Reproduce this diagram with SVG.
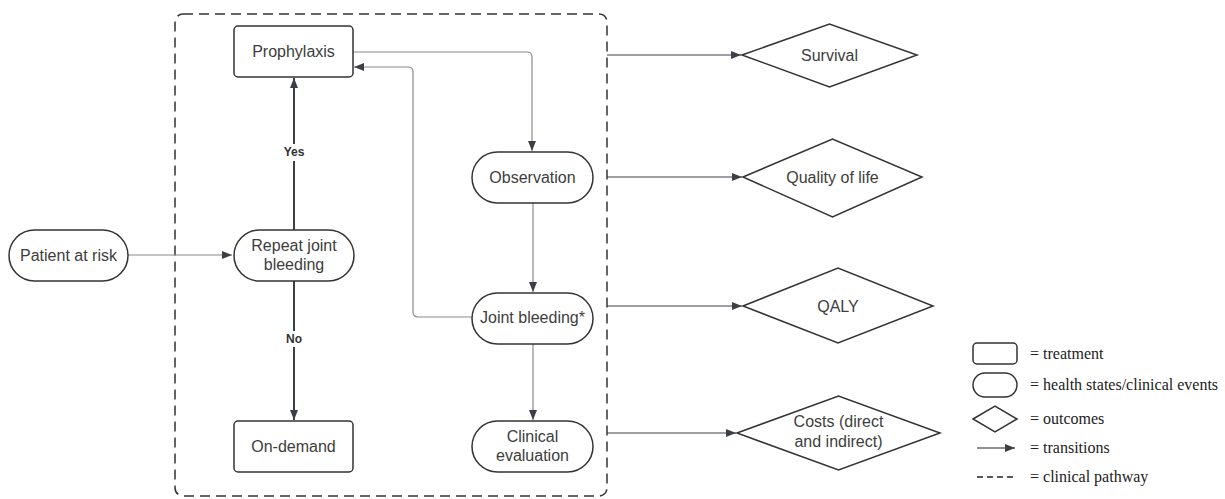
<svg xmlns="http://www.w3.org/2000/svg" width="1225" height="499" viewBox="0 0 1225 499">
<style>
.node{fill:#fff;stroke:#333;stroke-width:1.5}
.t{font-family:"Liberation Sans",Arial,sans-serif;font-size:16px;fill:#3d3d3d;text-anchor:middle}
.lbl{font-family:"Liberation Sans",Arial,sans-serif;font-size:12px;font-weight:bold;fill:#333;text-anchor:middle}
.lg{font-family:"Liberation Serif","Times New Roman",serif;font-size:16px;fill:#222}
.thin{fill:none;stroke:#8a8a8a;stroke-width:1.2}
.dark{fill:none;stroke:#3c4046;stroke-width:2}
.out{fill:none;stroke:#3c4046;stroke-width:1.2}
.frame{fill:none;stroke:#333;stroke-width:1.5;stroke-dasharray:10 6}
</style>
<defs>
<marker id="ah" viewBox="0 0 10 10" refX="10" refY="5" markerWidth="10" markerHeight="10" markerUnits="userSpaceOnUse" orient="auto">
<path d="M0,1 L10,5 L0,9 Z" fill="#3c4046"/>
</marker>
</defs>
<rect id="pathway" class="frame" x="175" y="14" width="432" height="482" rx="8"/>
<g id="connectors">
<path class="thin" d="M353,52 H527 Q532,52 532,57 V151" marker-end="url(#ah)"/>
<path class="thin" d="M472,317 H418 Q413,317 413,312 V72 Q413,67 408,67 H354" marker-end="url(#ah)"/>
<path class="thin" d="M533,203 V292" marker-end="url(#ah)"/>
<path class="thin" d="M533,344 V420" marker-end="url(#ah)"/>
<path class="thin" d="M128,255 H232" marker-end="url(#ah)"/>
<path class="dark" d="M294,230 V161"/>
<path class="dark" d="M294,144 V78" marker-end="url(#ah)"/>
<path class="dark" d="M294,281 V331"/>
<path class="dark" d="M294,347 V420" marker-end="url(#ah)"/>
<text class="lbl" x="294" y="156">Yes</text>
<text class="lbl" x="294" y="343">No</text>
<path class="out" d="M607,55 H741" marker-end="url(#ah)"/>
<path class="out" d="M607,177 H742" marker-end="url(#ah)"/>
<path class="out" d="M607,306 H742" marker-end="url(#ah)"/>
<path class="out" d="M607,433 H736" marker-end="url(#ah)"/>
</g>
<g id="prophylaxis"><rect class="node" x="234" y="26" width="119" height="51" rx="4"/><text class="t" x="293.5" y="57">Prophylaxis</text></g>
<g id="observation"><rect class="node" x="472" y="152" width="121" height="51" rx="25.5"/><text class="t" x="532.5" y="183">Observation</text></g>
<g id="patient"><rect class="node" x="9" y="230" width="119" height="51" rx="25.5"/><text class="t" x="68.5" y="261">Patient at risk</text></g>
<g id="repeat"><rect class="node" x="234" y="230" width="120" height="51" rx="25.5"/><text class="t" x="294" y="251">Repeat joint</text><text class="t" x="294" y="270">bleeding</text></g>
<g id="joint"><rect class="node" x="472" y="293" width="121" height="51" rx="25.5"/><text class="t" x="532.5" y="323">Joint bleeding*</text></g>
<g id="ondemand"><rect class="node" x="234" y="421" width="119" height="51" rx="4"/><text class="t" x="293.5" y="452">On-demand</text></g>
<g id="clinical"><rect class="node" x="472" y="421" width="121" height="51" rx="25.5"/><text class="t" x="532.5" y="442">Clinical</text><text class="t" x="532.5" y="461">evaluation</text></g>
<g id="survival"><path class="node" d="M742,55 L829.5,24 L917,55 L829.5,87 Z"/><text class="t" x="829.5" y="61">Survival</text></g>
<g id="qol"><path class="node" d="M743,177 L832.5,139 L922,177 L832.5,217 Z"/><text class="t" x="832.5" y="183">Quality of life</text></g>
<g id="qaly"><path class="node" d="M743,306 L838,268 L933,306 L838,343 Z"/><text class="t" x="838" y="312">QALY</text></g>
<g id="costs"><path class="node" d="M737,433 L838.5,396 L940,433 L838.5,470 Z"/><text class="t" x="838.5" y="427">Costs (direct</text><text class="t" x="838.5" y="447">and indirect)</text></g>
<g id="legend">
<rect class="node" x="973" y="343" width="44" height="21" rx="4" stroke="#222"/>
<rect class="node" x="973" y="373" width="44" height="24" rx="12" stroke="#222"/>
<path class="node" d="M973,419 L995,406 L1017,419 L995,432 Z" stroke="#222"/>
<path d="M977,448 H1015" stroke="#222" stroke-width="1.2" marker-end="url(#ah)"/>
<path d="M977,477 H1015" stroke="#222" stroke-width="1.5" stroke-dasharray="6 4"/>
<text class="lg" x="1030" y="359">= treatment</text>
<text class="lg" x="1030" y="390">= health states/clinical events</text>
<text class="lg" x="1030" y="424">= outcomes</text>
<text class="lg" x="1030" y="453">= transitions</text>
<text class="lg" x="1030" y="482">= clinical pathway</text>
</g>
</svg>
